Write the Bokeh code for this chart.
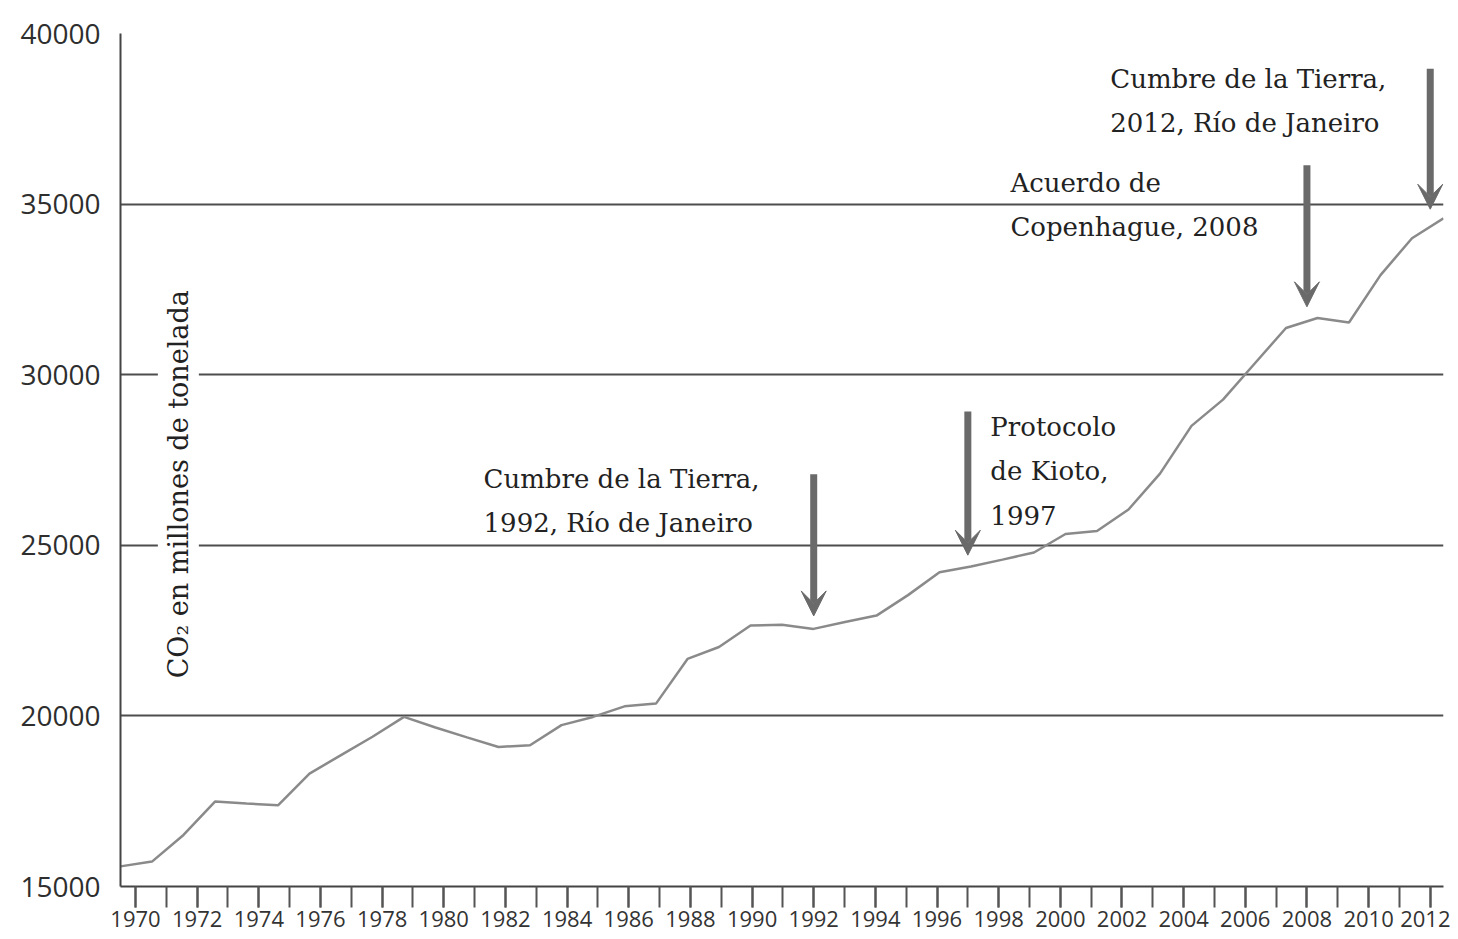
import math
from bokeh.plotting import figure
from bokeh.models import Range1d, LinearAxis, FixedTicker, Arrow, VeeHead, Label
from bokeh.embed import file_html
from bokeh.resources import INLINE

# ---- data ----
years = list(range(1970, 2013))
co2 = [15590, 15730, 16510, 17490, 17430, 17380, 18310, 18850, 19390, 19970,
       19660, 19370, 19090, 19140, 19730, 19970, 20280, 20360, 21670, 22020,
       22650, 22670, 22550, 22750, 22940, 23540, 24210, 24380, 24580, 24790,
       25330, 25420, 26050, 27100, 28500, 29270, 30320, 31370, 31660, 31530,
       32920, 34000, 34580]
tick_years = list(range(1970, 2013, 2))
minor_years = list(range(1970, 2013))
y_ticks = [15000, 20000, 25000, 30000, 35000, 40000]

event_years = [1992, 1997, 2008, 2012]
arrow_top = [27080, 28920, 36140, 38970]
arrow_tip = [22930, 24710, 31990, 34850]

notes = [
    (1981.29, 26934, "Cumbre de la Tierra,"),
    (1981.29, 25648, "1992, Río de Janeiro"),
    (1997.73, 28453, "Protocolo"),
    (1997.73, 27167, "de Kioto,"),
    (1997.73, 25881, "1997"),
    (1998.38, 35612, "Acuerdo de"),
    (1998.38, 34326, "Copenhague, 2008"),
    (2001.62, 38680, "Cumbre de la Tierra,"),
    (2001.62, 37365, "2012, Río de Janeiro"),
]
y_title = "CO\u2082 en millones de tonelada"

# ---- figure ----
p = figure(width=1450, height=937, output_backend="svg", toolbar_location=None,
           x_range=Range1d(1970, 2012), y_range=Range1d(15000, 40000),
           x_axis_location=None,
           min_border_left=120, min_border_right=7, min_border_top=33,
           min_border_bottom=51)
p.outline_line_color = None
p.background_fill_color = "white"
p.border_fill_color = "white"

p.extra_x_ranges = {"ticks": Range1d(1969.513, 2012.43)}
xaxis = LinearAxis(x_range_name="ticks",
                   ticker=FixedTicker(ticks=tick_years, minor_ticks=minor_years))
xaxis.axis_line_color = "#444444"
xaxis.axis_line_width = 2
xaxis.major_tick_line_color = "#555555"
xaxis.major_tick_line_width = 2
xaxis.minor_tick_line_color = "#555555"
xaxis.minor_tick_line_width = 2
xaxis.major_tick_out = 21
xaxis.major_tick_in = 0
xaxis.minor_tick_out = 21
xaxis.minor_tick_in = 0
xaxis.major_label_standoff = 3
xaxis.major_label_text_font = "Open Sans"
xaxis.major_label_text_font_size = "22px"
xaxis.major_label_text_color = "#333333"
p.add_layout(xaxis, "below")

p.yaxis.ticker = FixedTicker(ticks=y_ticks)
p.yaxis.axis_line_color = "#444444"
p.yaxis.axis_line_width = 2
p.yaxis.major_tick_out = 0
p.yaxis.major_tick_in = 0
p.yaxis.minor_tick_out = 0
p.yaxis.minor_tick_in = 0
p.yaxis.major_label_standoff = 20
p.yaxis.major_label_text_font = "Open Sans"
p.yaxis.major_label_text_font_size = "28px"
p.yaxis.major_label_text_color = "#2e2e2e"

p.xgrid.visible = False
p.ygrid.grid_line_color = "#4d4d4d"
p.ygrid.grid_line_width = 2

p.line(years, co2, line_color="#8a8a8a", line_width=2.5)

arrow_color = "#6a6a6a"
for ey, top, tip in zip(event_years, arrow_top, arrow_tip):
    p.add_layout(Arrow(end=VeeHead(size=25, fill_color=arrow_color, line_color=arrow_color),
                       x_start=ey, y_start=top, x_end=ey, y_end=tip,
                       line_color=arrow_color, line_width=7, x_range_name="ticks"))

for nx, ny, txt in notes:
    p.add_layout(Label(x=nx, y=ny, text=txt, x_range_name="ticks",
                       text_font="DejaVu Serif", text_font_size="26px",
                       text_color="#222222", text_baseline="middle", text_align="left"))

p.add_layout(Label(x=1971.39, y=26788, text=y_title, x_range_name="ticks",
                   angle=math.pi / 2, text_font="DejaVu Serif", text_font_size="27px",
                   text_color="#222222", text_baseline="middle", text_align="center",
                   background_fill_color="white", padding=5))

open("out.html", "w").write(file_html(p, INLINE))
